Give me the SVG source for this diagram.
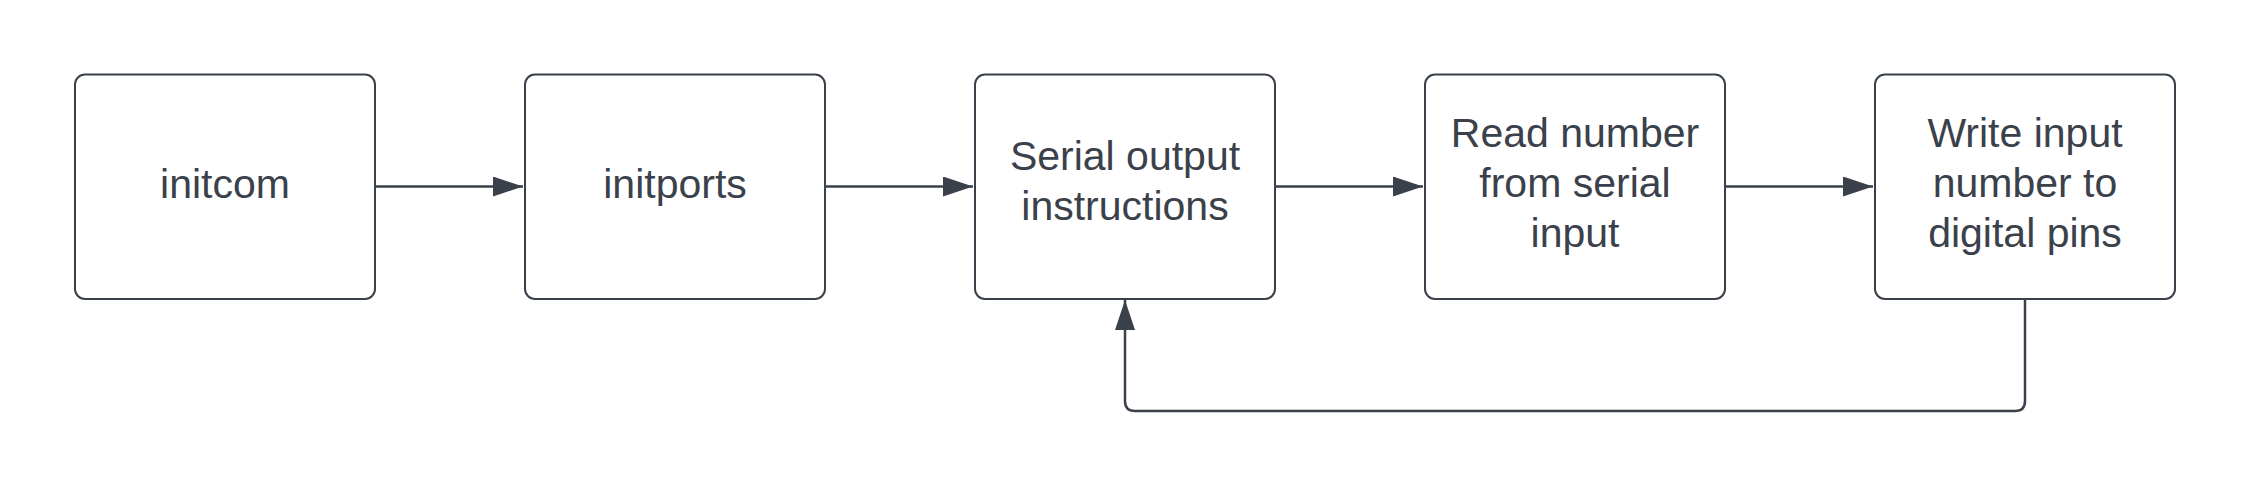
<svg xmlns="http://www.w3.org/2000/svg" width="2250" height="488" viewBox="0 0 2250 488">
<style>
.box{fill:#ffffff;stroke:#3a414a;stroke-width:2}
.lbl{font-family:"Liberation Sans",Arial,sans-serif;font-size:41px;fill:#3a414a;text-anchor:middle}
.con{fill:none;stroke:#3a414a;stroke-width:2.5}
</style>
<defs>
<marker id="ah" markerUnits="userSpaceOnUse" markerWidth="32" markerHeight="22" refX="30" refY="10" orient="auto" viewBox="0 0 32 22">
<path d="M0,0 L30,10 L0,20 Z" fill="#3a414a"/>
</marker>
</defs>
<rect width="2250" height="488" fill="#ffffff"/>
<g id="connectors">
<path class="con" d="M375,186.5 H523" marker-end="url(#ah)"/>
<path class="con" d="M825,186.5 H973" marker-end="url(#ah)"/>
<path class="con" d="M1275,186.5 H1423" marker-end="url(#ah)"/>
<path class="con" d="M1725,186.5 H1873" marker-end="url(#ah)"/>
<path class="con" d="M2025,299 V401 Q2025,411 2015,411 H1135 Q1125,411 1125,401 V300" marker-end="url(#ah)"/>
</g>
<g id="n1"><rect class="box" x="75" y="74.5" width="300" height="224.5" rx="10"/><text class="lbl" x="225" y="198">initcom</text></g>
<g id="n2"><rect class="box" x="525" y="74.5" width="300" height="224.5" rx="10"/><text class="lbl" x="675" y="198">initports</text></g>
<g id="n3"><rect class="box" x="975" y="74.5" width="300" height="224.5" rx="10"/><text class="lbl" x="1125" y="170">Serial output</text><text class="lbl" x="1125" y="220">instructions</text></g>
<g id="n4"><rect class="box" x="1425" y="74.5" width="300" height="224.5" rx="10"/><text class="lbl" x="1575" y="147">Read number</text><text class="lbl" x="1575" y="197">from serial</text><text class="lbl" x="1575" y="247">input</text></g>
<g id="n5"><rect class="box" x="1875" y="74.5" width="300" height="224.5" rx="10"/><text class="lbl" x="2025" y="147">Write input</text><text class="lbl" x="2025" y="197">number to</text><text class="lbl" x="2025" y="247">digital pins</text></g>
</svg>
